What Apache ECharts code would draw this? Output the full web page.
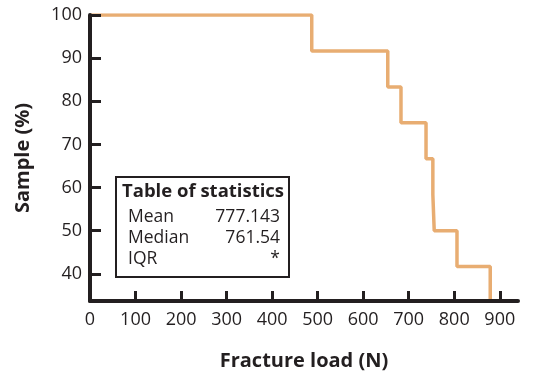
<!DOCTYPE html>
<html>
<head>
<meta charset="utf-8">
<script src="https://cdn.jsdelivr.net/npm/echarts@6/dist/echarts.min.js"></script>
<style>
  html, body { margin: 0; padding: 0; background: #fff; }
  #chart { width: 534px; height: 376px; }
</style>
</head>
<body>
<div id="chart"></div>
<script>
// Kaplan-Meier style step curve
const loads = [0, 487, 654, 683, 738, 753, 756, 806, 879];
const samplePct = [100, 91.67, 83.33, 75, 66.67, 58.33, 50, 41.67, 0];
const xTicks = [0, 100, 200, 300, 400, 500, 600, 700, 800, 900];
const yTicks = [40, 50, 60, 70, 80, 90, 100];
const statLabels = ['Mean', 'Median', 'IQR'];
const statValues = ['777.143', '761.54', '*'];

const ink = '#231f20';
const font = 'Open Sans';

const chart = echarts.init(document.getElementById('chart'));

// stats box children, positioned inside the group
const statTexts = [];
statLabels.forEach((lab, i) => {
    statTexts.push({
        type: 'text', x: 12, y: 31 + i * 21,
        style: { text: lab, fill: ink, font: '17.5px "' + font + '"' }
    });
    statTexts.push({
        type: 'text', x: 164, y: 31 + i * 21,
        style: { text: statValues[i], fill: ink, font: '17.5px "' + font + '"', align: 'right' }
    });
});

const option = {
    backgroundColor: '#fff',
    animation: false,
    grid: { left: 90, right: 16, top: 15, bottom: 73, containLabel: false },
    xAxis: {
        type: 'value',
        min: 0,
        max: 940,
        interval: 100,
        name: 'Fracture load (N)',
        nameLocation: 'middle',
        nameGap: 50,
        nameTextStyle: { color: ink, fontFamily: font, fontWeight: 'bold', fontSize: 20 },
        splitLine: { show: false },
        axisLine: { show: true, lineStyle: { color: ink, width: 4 } },
        axisTick: { show: true, inside: true, length: 10, customValues: xTicks, lineStyle: { color: ink, width: 3 } },
        axisLabel: { color: ink, fontFamily: font, fontSize: 18, margin: 10, customValues: xTicks },
        z: 5
    },
    yAxis: {
        type: 'value',
        min: 33.7,
        max: 100,
        name: 'Sample (%)',
        nameLocation: 'middle',
        nameGap: 57,
        nameTextStyle: { color: ink, fontFamily: font, fontWeight: 'bold', fontSize: 20 },
        splitLine: { show: false },
        axisLine: { show: true, lineStyle: { color: ink, width: 4 } },
        axisTick: { show: true, inside: true, length: 11, customValues: yTicks, lineStyle: { color: ink, width: 3 } },
        axisLabel: { color: ink, fontFamily: font, fontSize: 18, margin: 8, customValues: yTicks },
        z: 5
    },
    series: [{
        type: 'line',
        step: 'end',
        data: loads.map((x, i) => [x, samplePct[i]]),
        symbol: 'none',
        clip: true,
        lineStyle: { color: '#e8ad72', width: 3.5 },
        z: 2
    }],
    graphic: [{
        type: 'group',
        x: 116,
        y: 177,
        children: [
            { type: 'rect', shape: { x: 0, y: 0, width: 173, height: 100 }, style: { fill: '#fff', stroke: ink, lineWidth: 2 } },
            { type: 'text', x: 6, y: 5, style: { text: 'Table of statistics', fill: ink, font: 'bold 18.5px "' + font + '"' } }
        ].concat(statTexts)
    }]
};

chart.setOption(option);
window.addEventListener('resize', () => chart.resize());
</script>
</body>
</html>
